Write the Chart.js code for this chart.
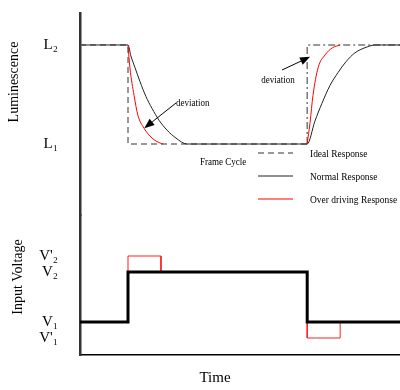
<!DOCTYPE html>
<html lang="en">
<head>
<meta charset="UTF-8">
<title>Luminescence response and input voltage</title>
<script src="https://cdn.jsdelivr.net/npm/chart.js"></script>
<style>
  body { margin: 0; background: #fff; }
</style>
</head>
<body>
<canvas id="myChart" width="400" height="390"></canvas>
<script>
  // time runs 0..100, frame change at 15 and again at 71
  const idealTime = [0, 15, 15, 71, 71, 100];
  const idealLum  = [2, 2, 1, 1, 2, 2];

  const normalTime = [0, 15, 15.9, 17.2, 18.75, 20.6, 22.5, 24.7, 27.2, 30, 33.4, 71, 73.4, 75.6, 78.1, 80.6, 83.1, 85.9, 89.7, 92.2, 100];
  const normalLum  = [2, 2, 1.89, 1.77, 1.63, 1.48, 1.36, 1.24, 1.14, 1.06, 1, 1, 1.23, 1.41, 1.59, 1.72, 1.83, 1.92, 1.98, 2, 2];

  // null = gap between the falling and rising part
  const overTime = [15, 15.6, 16.9, 18.1, 20, 22.5, 25, 26, 48, 71, 71.9, 72.8, 74.4, 76.6, 78.8, 81.3];
  const overLum  = [2, 1.77, 1.49, 1.29, 1.16, 1.06, 1.01, 1, null, 1, 1.22, 1.49, 1.77, 1.90, 1.97, 2];

  const inputTime = [0, 15, 15, 71, 71, 100];
  const inputVolt = [1, 1, 2, 2, 1, 1];

  const overVoltTime = [15, 15, 25.3, 25.3, 48, 71, 71, 81.3, 81.3];
  const overVolt     = [2, 2.32, 2.32, 2, null, 1, 0.68, 0.68, 1];

  const lumTicks = [1, 2];
  const lumTickLabels = ['L₁', 'L₂'];
  const voltTicks = [0.68, 1, 2, 2.32];
  const voltTickLabels = ["V'₁", 'V₁', 'V₂', "V'₂"];

  const serif = 'Liberation Serif';

  function pts(xs, ys) {
    return xs.map((x, i) => ({x: x, y: ys[i]}));
  }

  function drawText(ctx, str, x, y, size, align) {
    ctx.save();
    ctx.font = size + 'px "' + serif + '"';
    ctx.fillStyle = '#000';
    ctx.textAlign = align || 'left';
    ctx.textBaseline = 'middle';
    ctx.translate(x, y);
    ctx.scale(0.9, 1);
    ctx.fillText(str, 0, 0);
    ctx.restore();
  }

  function drawArrow(ctx, x1, y1, x2, y2) {
    const a = Math.atan2(y2 - y1, x2 - x1);
    const len = 10, half = 4;
    ctx.save();
    ctx.strokeStyle = '#000';
    ctx.fillStyle = '#000';
    ctx.lineWidth = 1;
    ctx.beginPath();
    ctx.moveTo(x1, y1);
    ctx.lineTo(x2 - len * Math.cos(a), y2 - len * Math.sin(a));
    ctx.stroke();
    ctx.beginPath();
    ctx.moveTo(x2, y2);
    ctx.lineTo(x2 - len * Math.cos(a) + half * Math.sin(a), y2 - len * Math.sin(a) - half * Math.cos(a));
    ctx.lineTo(x2 - len * Math.cos(a) - half * Math.sin(a), y2 - len * Math.sin(a) + half * Math.cos(a));
    ctx.closePath();
    ctx.fill();
    ctx.restore();
  }

  function rotatedTitle(ctx, str, x, y) {
    ctx.save();
    ctx.font = '14px "' + serif + '"';
    ctx.fillStyle = '#000';
    ctx.textAlign = 'center';
    ctx.textBaseline = 'middle';
    ctx.translate(x, y);
    ctx.rotate(-Math.PI / 2);
    ctx.fillText(str, 0, 0);
    ctx.restore();
  }

  const notes = {
    id: 'notes',
    afterDraw(chart) {
      const ctx = chart.ctx;
      const x = chart.scales.x, yL = chart.scales.yL;

      rotatedTitle(ctx, 'Luminescence', 14, 82);
      rotatedTitle(ctx, 'Input Voltage', 18, 277);

      ctx.save();
      ctx.font = '15px "' + serif + '"';
      ctx.fillStyle = '#000';
      ctx.textAlign = 'center';
      ctx.textBaseline = 'middle';
      ctx.fillText('Time', 215, 378);
      ctx.restore();

      // deviation arrows
      drawArrow(ctx, 176, 103, x.getPixelForValue(20.1), yL.getPixelForValue(1.16));
      drawText(ctx, 'deviation', 176, 103, 10, 'left');
      drawArrow(ctx, 282, 70, x.getPixelForValue(71.9), yL.getPixelForValue(1.88));
      drawText(ctx, 'deviation', 278, 80, 10, 'center');

      drawText(ctx, 'Frame Cycle', 200, 162, 10, 'left');

      // legend for the luminescence curves
      const rows = [153, 176, 199];
      const sets = chart.data.datasets.filter(d => d.yAxisID === 'yL');
      ['Ideal Response', 'Normal Response', 'Over driving Response'].forEach((lbl, i) => {
        const ds = sets.find(d => d.label === lbl);
        ctx.save();
        ctx.strokeStyle = ds.borderColor;
        ctx.lineWidth = ds.borderWidth;
        ctx.setLineDash(ds.borderDash || []);
        ctx.beginPath();
        ctx.moveTo(258, rows[i]);
        ctx.lineTo(293, rows[i]);
        ctx.stroke();
        ctx.restore();
        drawText(ctx, lbl, 310, rows[i] + 1, 10.5, 'left');
      });
    }
  };

  function yAxis(stackWeight, min, max, ticks, labels) {
    return {
      type: 'linear',
      position: 'left',
      stack: 'panels',
      stackWeight: stackWeight,
      min: min,
      max: max,
      afterFit: s => {
        s.width = 80;
        // labels sit well inside the axis, no extra room needed above/below
        s.paddingTop = 0;
        s.paddingBottom = 0;
      },
      afterBuildTicks: s => { s.ticks = ticks.map(v => ({value: v})); },
      grid: {display: false},
      border: {display: true, color: '#333', width: 2.5},
      ticks: {
        autoSkip: false,
        padding: 14,
        color: '#000',
        font: {family: serif, size: 15},
        callback: v => labels[ticks.indexOf(v)]
      }
    };
  }

  const ctx = document.getElementById('myChart').getContext('2d');
  new Chart(ctx, {
    type: 'line',
    data: {
      datasets: [
        {
          label: 'Input Voltage',
          yAxisID: 'yV',
          data: pts(inputTime, inputVolt),
          borderColor: '#000',
          borderWidth: 3,
          pointRadius: 0,
          tension: 0
        },
        {
          label: 'Over driving Response',
          yAxisID: 'yL',
          data: pts(overTime, overLum),
          borderColor: '#ff0000',
          borderWidth: 1,
          pointRadius: 0,
          cubicInterpolationMode: 'monotone'
        },
        {
          label: 'Normal Response',
          yAxisID: 'yL',
          data: pts(normalTime, normalLum),
          borderColor: '#222',
          borderWidth: 1,
          pointRadius: 0,
          cubicInterpolationMode: 'monotone'
        },
        {
          label: 'Ideal Response',
          yAxisID: 'yL',
          data: pts(idealTime, idealLum),
          borderColor: '#777',
          borderWidth: 1.5,
          borderDash: [6, 4],
          pointRadius: 0,
          tension: 0,
          segment: {
            borderDash: c => c.p0DataIndex >= 3 ? [7, 3, 2, 3] : [6, 4]
          }
        },
        {
          label: 'Over driving Voltage',
          yAxisID: 'yV',
          data: pts(overVoltTime, overVolt),
          borderColor: '#ff2020',
          borderWidth: 1,
          pointRadius: 0,
          tension: 0
        }
      ]
    },
    options: {
      responsive: false,
      animation: false,
      devicePixelRatio: 1,
      layout: {padding: {top: 13, left: 0, right: 0, bottom: 0}},
      plugins: {
        legend: {display: false},
        tooltip: {enabled: false}
      },
      scales: {
        x: {
          type: 'linear',
          min: 0,
          max: 100,
          afterFit: s => { s.height = 35; },
          grid: {display: false},
          border: {display: true, color: '#000', width: 1.5},
          ticks: {display: false}
        },
        yV: yAxis(140, 0.34, 3.14, voltTicks, voltTickLabels),
        yL: yAxis(202, 0.283, 2.323, lumTicks, lumTickLabels)
      }
    },
    plugins: [notes]
  });
</script>
</body>
</html>
